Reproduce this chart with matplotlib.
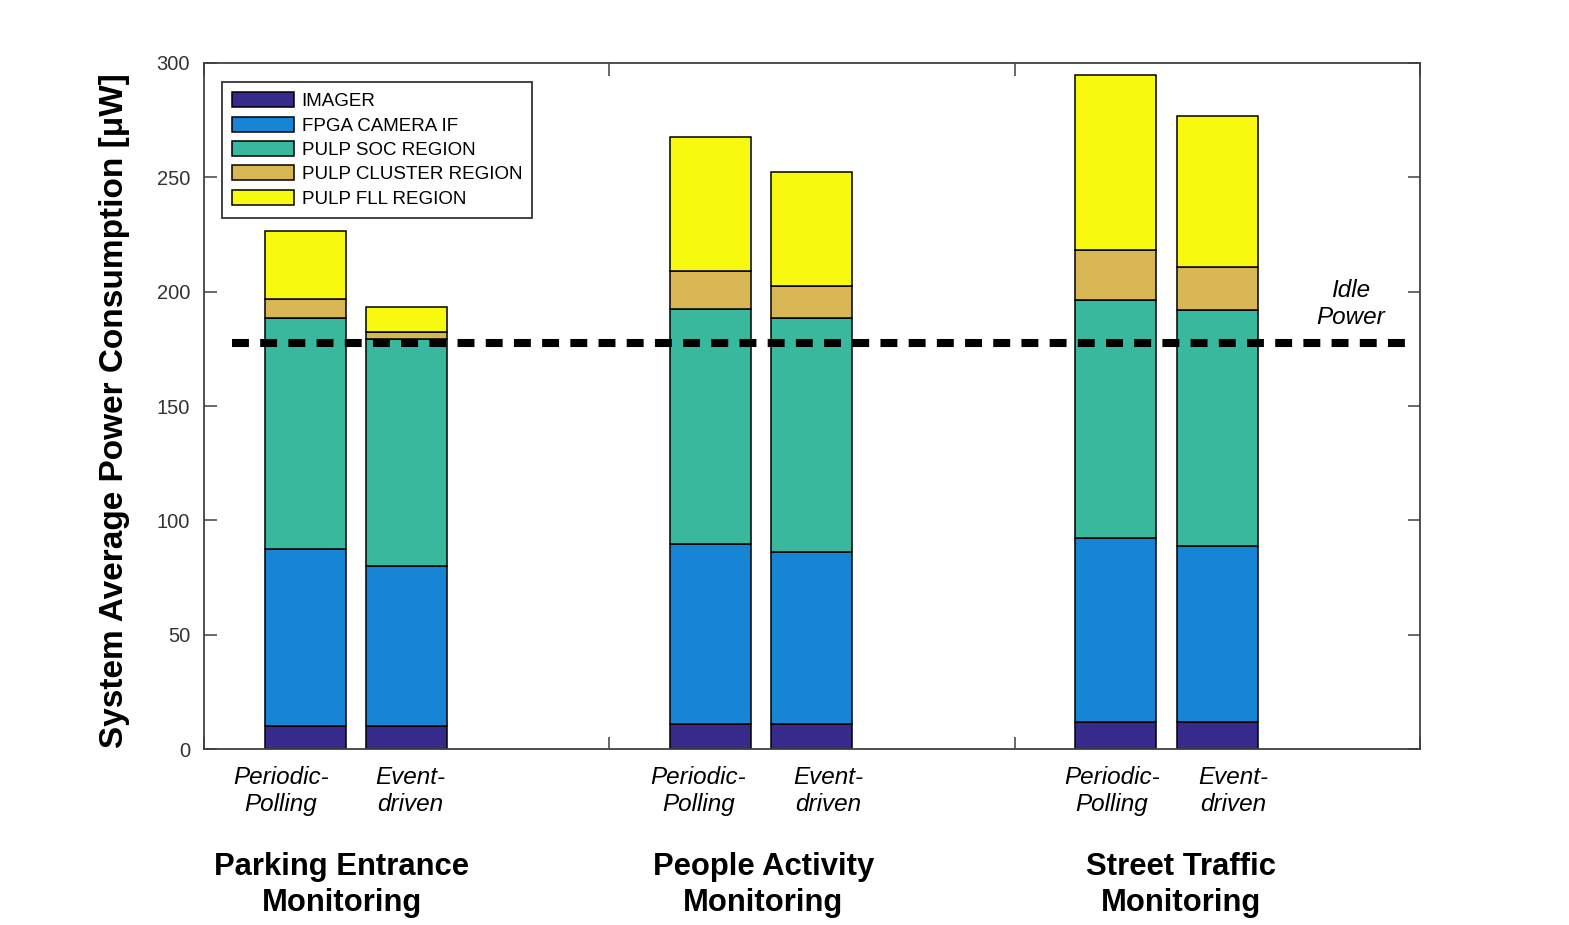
import numpy as np
import matplotlib
matplotlib.use("Agg")
import matplotlib.pyplot as plt

plt.rcParams['font.family'] = ['Liberation Sans', 'DejaVu Sans']

# bar positions (x axis runs 1..4, groups of two bars)
positions = [1.25, 1.5, 2.25, 2.5, 3.25, 3.5]
bar_labels = ["Periodic-\nPolling", "Event-\ndriven"] * 3
label_x = [1.19, 1.51, 2.22, 2.54, 3.24, 3.54]
groups = ["Parking Entrance\nMonitoring", "People Activity\nMonitoring", "Street Traffic\nMonitoring"]
group_x = [1.34, 2.38, 3.41]

series = ["IMAGER", "FPGA CAMERA IF", "PULP SOC REGION", "PULP CLUSTER REGION", "PULP FLL REGION"]
colors = ["#362a8a", "#1685d6", "#38b99d", "#d9b654", "#f7f90f"]

# segment heights
imager  = [10.0, 10.0, 10.9, 10.9, 11.8, 11.8]
fpga    = [77.5, 70.0, 78.7, 75.2, 80.5, 77.0]
soc     = [101.0, 99.3, 102.8, 102.4, 104.1, 103.2]
cluster = [8.3, 3.1, 16.6, 14.0, 21.8, 18.8]
fll     = [29.7, 10.9, 58.6, 49.8, 76.5, 66.0]
idle_power = 177.5

fig = plt.figure(figsize=(15.69, 9.25), dpi=100)
ax = fig.add_axes([0.130, 0.190, 0.775, 0.742])

bottom = np.zeros(len(positions))
for name, vals, c in zip(series, [imager, fpga, soc, cluster, fll], colors):
    ax.bar(positions, vals, width=0.2, bottom=bottom, color=c, edgecolor='black',
           linewidth=1.1, label=name, zorder=2)
    bottom += np.array(vals)

ax.axhline(idle_power, xmin=0.023, xmax=0.997, color='black', linewidth=5.8,
           dashes=(2.1, 1.4), zorder=3)
ax.text(3.83, 194.5, "Idle\nPower", ha='center', va='center', fontsize=17.5,
        style='italic', linespacing=1.2)

ax.set_xlim(1, 4)
ax.set_ylim(0, 300)
ax.set_xticks([1, 2, 3, 4])
ax.set_xticklabels([])
ax.set_yticks(np.arange(0, 301, 50))
ax.tick_params(direction='in', length=9, width=1.1, top=True, right=True,
               labelsize=14.5, labelcolor='#333333', color='#404040', pad=10)
for s in ax.spines.values():
    s.set_color('#404040')
    s.set_linewidth(1.3)

for x, t in zip(label_x, bar_labels):
    ax.text(x, -0.025, t, transform=ax.get_xaxis_transform(), ha='center', va='top',
            fontsize=17.5, style='italic', linespacing=1.2)
for x, t in zip(group_x, groups):
    ax.text(x, -0.15, t, transform=ax.get_xaxis_transform(), ha='center', va='top',
            fontsize=22.3, fontweight='bold', linespacing=1.25)

fig.text(0.073, 0.556, "System Average Power Consumption [μW]", rotation=90,
         ha='center', va='center', fontsize=24, fontweight='bold')

leg = ax.legend(loc='upper left', bbox_to_anchor=(0.0148, 0.972), borderaxespad=0,
                fontsize=13.5, handlelength=3.3, handleheight=0.85, labelspacing=0.34,
                handletextpad=0.4, borderpad=0.55, fancybox=False, framealpha=1)
leg.get_frame().set_edgecolor('#333333')
leg.get_frame().set_linewidth(1.3)

fig.savefig("out.png", dpi=100)
